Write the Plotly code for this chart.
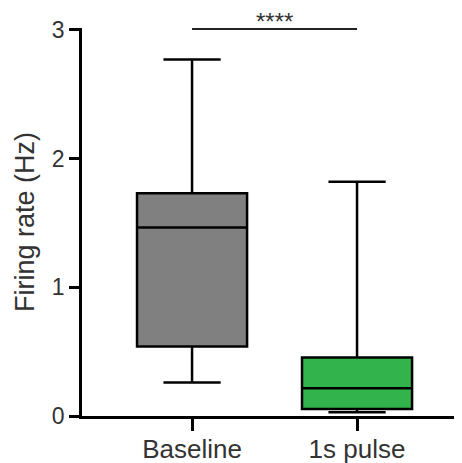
import plotly.graph_objects as go

categories = ["Baseline", "1s pulse"]
lower_fence = [0.26, 0.03]
q1 = [0.54, 0.055]
median = [1.465, 0.215]
q3 = [1.73, 0.455]
upper_fence = [2.77, 1.82]
colors = ["#808080", "#33b34b"]
sig_label = "****"
sig_y = 3.01

fig = go.Figure()
for i, c in enumerate(categories):
    fig.add_trace(go.Box(
        x=[c], q1=[q1[i]], median=[median[i]], q3=[q3[i]],
        lowerfence=[lower_fence[i]], upperfence=[upper_fence[i]],
        fillcolor=colors[i], line=dict(color="black", width=2.5),
        width=0.667, whiskerwidth=0.52, boxpoints=False, showlegend=False,
        hoverinfo="skip",
    ))

fig.add_shape(type="line", xref="x", yref="y", x0=0, x1=1,
              y0=sig_y, y1=sig_y, line=dict(color="#222", width=2.5))
fig.add_annotation(x=0.5, y=1, xref="x", yref="paper", text=sig_label, showarrow=False,
                   yanchor="top", yshift=22, font=dict(size=24, color="#333"))

font = "Liberation Sans, Arial, sans-serif"
fig.update_layout(
    width=470, height=471,
    margin=dict(l=74, r=18, t=20, b=63, autoexpand=False),
    plot_bgcolor="white", paper_bgcolor="white",
    font=dict(family=font, color="#222"),
    xaxis=dict(type="category", categoryorder="array", categoryarray=categories,
               range=[-0.667, 1.624], showline=True, linecolor="black", linewidth=2.5,
               ticks="outside", ticklen=12, tickwidth=2.5, tickcolor="black", automargin=False,
               ticklabelstandoff=-4,
               tickfont=dict(size=26, color="#333"), showgrid=False, zeroline=False),
    yaxis=dict(range=[0, 3.015], tickvals=[0, 1, 2, 3], showline=True, linecolor="black",
               linewidth=2.5, ticks="outside", ticklen=10, tickwidth=2.5, tickcolor="black",
               tickfont=dict(size=23, color="#333"), showgrid=False, zeroline=False,
               automargin=False,
               title=dict(text="Firing rate (Hz)", font=dict(size=27, color="#333"), standoff=10)),
)
fig.write_html("out.html")
